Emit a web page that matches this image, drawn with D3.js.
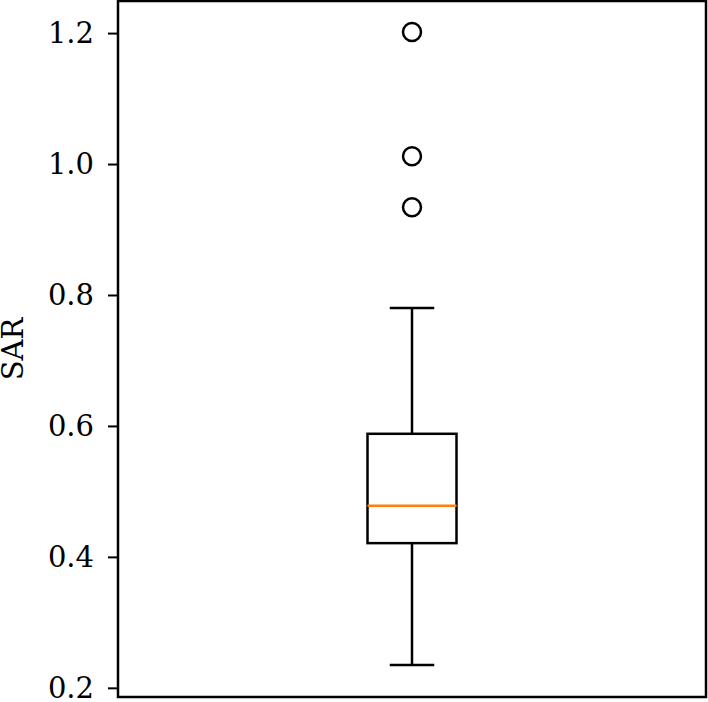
<!DOCTYPE html>
<html>
<head>
<meta charset="utf-8">
<script src="https://cdn.jsdelivr.net/npm/d3@7"></script>
<style>
  body { margin: 0; background: #fff; }
  text { font-family: "DejaVu Serif", serif; }
</style>
</head>
<body>
<div id="chart"></div>
<script>
// Box summary
const boxStats = { q1: 0.421, median: 0.478, q3: 0.588, whiskerLow: 0.235, whiskerHigh: 0.780 };
const outliers = [1.2015, 1.012, 0.934];
const yTicks = [0.2, 0.4, 0.6, 0.8, 1.0, 1.2];
const yLabel = "SAR";

const W = 708, H = 702;
const margin = { top: 1, right: 2, bottom: 5, left: 118 };
const width = W - margin.left - margin.right,
    height = H - margin.top - margin.bottom;

const svg = d3.select("#chart").append("svg")
    .attr("width", W)
    .attr("height", H)
    .append("g")
    .attr("transform", `translate(${margin.left},${margin.top})`);

const y = d3.scaleLinear().domain([0.186, 1.249]).range([height, 0]);
const x = d3.scaleLinear().domain([0.5, 1.5]).range([0, width]);

// y axis
const yAxis = svg.append("g")
    .call(d3.axisLeft(y).tickValues(yTicks).tickFormat(d3.format(".1f")).tickSize(10).tickPadding(14));
yAxis.select(".domain").remove();
yAxis.selectAll(".tick line").attr("stroke", "#000").attr("stroke-width", 2);
yAxis.selectAll(".tick text")
    .style("font-size", "29px")
    .style("font-family", "'DejaVu Serif', serif")
    .attr("fill", "#000");

svg.append("text")
    .attr("transform", "rotate(-90)")
    .attr("x", -height / 2)
    .attr("y", -margin.left + 13)
    .attr("dy", "0.35em")
    .attr("text-anchor", "middle")
    .style("font-size", "29px")
    .text(yLabel);

// box
const cx = x(1);
const boxW = 89;
const capW = boxW / 2;

svg.append("line")
    .attr("x1", cx).attr("x2", cx)
    .attr("y1", y(boxStats.q3)).attr("y2", y(boxStats.whiskerHigh))
    .attr("stroke", "#000").attr("stroke-width", 2.5);
svg.append("line")
    .attr("x1", cx).attr("x2", cx)
    .attr("y1", y(boxStats.q1)).attr("y2", y(boxStats.whiskerLow))
    .attr("stroke", "#000").attr("stroke-width", 2.5);

[boxStats.whiskerHigh, boxStats.whiskerLow].forEach(v => {
    svg.append("line")
        .attr("x1", cx - capW / 2).attr("x2", cx + capW / 2)
        .attr("y1", y(v)).attr("y2", y(v))
        .attr("stroke", "#000").attr("stroke-width", 2.5);
});

svg.append("rect")
    .attr("x", cx - boxW / 2)
    .attr("y", y(boxStats.q3))
    .attr("width", boxW)
    .attr("height", y(boxStats.q1) - y(boxStats.q3))
    .attr("fill", "none")
    .attr("stroke", "#000")
    .attr("stroke-width", 2.5);

svg.append("line")
    .attr("x1", cx - boxW / 2).attr("x2", cx + boxW / 2)
    .attr("y1", y(boxStats.median)).attr("y2", y(boxStats.median))
    .attr("stroke", "#ff7f0e").attr("stroke-width", 2.5);

svg.selectAll(".flier")
    .data(outliers)
    .enter()
    .append("circle")
    .attr("class", "flier")
    .attr("cx", cx)
    .attr("cy", d => y(d))
    .attr("r", 9)
    .attr("fill", "none")
    .attr("stroke", "#000")
    .attr("stroke-width", 2.5);

// frame
svg.append("rect")
    .attr("x", 0).attr("y", 0)
    .attr("width", width).attr("height", height)
    .attr("fill", "none")
    .attr("stroke", "#000")
    .attr("stroke-width", 2.5);
</script>
</body>
</html>
